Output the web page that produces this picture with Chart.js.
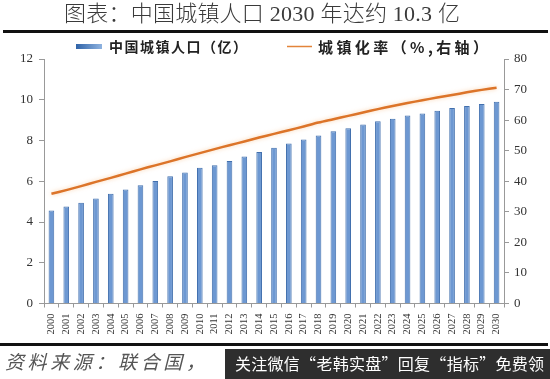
<!DOCTYPE html>
<html>
<head>
<meta charset="utf-8">
<script src="https://cdn.jsdelivr.net/npm/chart.js@4"></script>
<style>
html,body{margin:0;padding:0;background:#fff;}
#c{display:block;}
</style>
</head>
<body>
<canvas id="c" width="550" height="379"></canvas>
<script>
const years = ['2000','2001','2002','2003','2004','2005','2006','2007','2008','2009','2010','2011','2012','2013','2014','2015','2016','2017','2018','2019','2020','2021','2022','2023','2024','2025','2026','2027','2028','2029','2030'];
const urbanPop = [4.56,4.76,4.95,5.15,5.39,5.59,5.80,6.01,6.24,6.43,6.66,6.79,7.00,7.22,7.43,7.65,7.85,8.05,8.24,8.45,8.60,8.78,8.94,9.07,9.23,9.33,9.46,9.59,9.69,9.79,9.90];
const urbanRate = [35.9,37.1,38.4,39.8,41.1,42.5,43.9,45.2,46.5,47.9,49.2,50.5,51.8,53.0,54.3,55.5,56.7,57.9,59.2,60.3,61.4,62.5,63.6,64.6,65.6,66.5,67.4,68.2,69.1,69.9,70.6];
const leftTicks = [0,2,4,6,8,10,12];
const rightTicks = [0,10,20,30,40,50,60,70,80];
const barLabel = '中国城镇人口（亿）';
const lineLabel = '城镇化率（%,右轴）';
const titleText = '图表：中国城镇人口 2030 年达约 10.3 亿';
const sourceText = '资料来源：联合国，';
const watermarkText = '关注微信“老韩实盘”回复“指标”免费领';

const serif = '"Liberation Serif","Times New Roman",serif';
const cjk = '"Liberation Serif","Noto Sans CJK SC",sans-serif';

function fitText(ctx, text, x, y, width) {
  ctx.letterSpacing = '0px';
  const w = ctx.measureText(text).width;
  const n = [...text].length;
  const ls = (width - w) / (n - 1);
  ctx.letterSpacing = ls.toFixed(2) + 'px';
  ctx.fillText(text, x, y);
  ctx.letterSpacing = '0px';
}

const decor = {
  id: 'decor',
  beforeDatasetDraw(chart, args) {
    if (args.index === 1) {
      const ctx = chart.ctx;
      ctx.save();
      ctx.shadowColor = 'rgba(245,175,110,0.55)';
      ctx.shadowBlur = 4;
    }
  },
  afterDatasetDraw(chart, args) {
    if (args.index === 1) chart.ctx.restore();
  },
  afterDraw(chart) {
    const ctx = chart.ctx;
    ctx.save();
    ctx.textBaseline = 'middle';
    ctx.textAlign = 'left';
    // title
    ctx.fillStyle = '#3a3a3a';
    ctx.font = '300 22px ' + cjk;
    fitText(ctx, titleText, 64, 15, 396);
    // rules
    ctx.fillStyle = '#111';
    ctx.fillRect(3, 30, 545, 3);
    ctx.fillRect(0, 343, 548, 3);
    // legend
    const g = ctx.createLinearGradient(76, 0, 102, 0);
    g.addColorStop(0, '#2f63a8');
    g.addColorStop(1, '#8fb3e0');
    ctx.fillStyle = g;
    ctx.fillRect(76, 44, 26, 5);
    ctx.fillStyle = '#222';
    ctx.font = 'bold 14px "Noto Sans CJK SC",sans-serif';
    fitText(ctx, barLabel, 109, 47, 138);
    ctx.strokeStyle = '#e3843a';
    ctx.lineWidth = 1.5;
    ctx.beginPath();
    ctx.moveTo(287, 46.5);
    ctx.lineTo(312, 46.5);
    ctx.stroke();
    ctx.font = 'bold 15px "Noto Sans CJK SC",sans-serif';
    fitText(ctx, lineLabel, 318, 47, 170);
    // source
    ctx.fillStyle = '#555';
    ctx.font = 'italic 19px "Noto Sans CJK SC",sans-serif';
    fitText(ctx, sourceText, 5, 362, 200);
    // watermark
    ctx.fillStyle = 'rgba(28,28,28,0.92)';
    ctx.fillRect(225, 349, 325, 30);
    ctx.fillStyle = '#fff';
    ctx.font = '16px "Noto Sans CJK SC",sans-serif';
    fitText(ctx, watermarkText, 235, 364, 309);
    ctx.restore();
  }
};

new Chart(document.getElementById('c'), {
  data: {
    labels: years,
    datasets: [
      {
        type: 'bar',
        label: barLabel,
        data: urbanPop,
        yAxisID: 'y',
        backgroundColor: '#6d98d2',
        borderColor: '#4270ae',
        borderWidth: 1,
        barPercentage: 0.38,
        categoryPercentage: 1,
        order: 1
      },
      {
        type: 'line',
        label: lineLabel,
        data: urbanRate,
        yAxisID: 'y1',
        borderColor: '#dc7429',
        borderWidth: 2.5,
        pointRadius: 0,
        tension: 0.3,
        fill: false,
        order: 0
      }
    ]
  },
  options: {
    responsive: false,
    animation: false,
    devicePixelRatio: 1,
    layout: { padding: { top: 59, left: 0, right: 0, bottom: 0 } },
    plugins: { legend: { display: false }, title: { display: false }, tooltip: { enabled: false } },
    scales: {
      x: {
        type: 'category',
        offset: true,
        grid: { offset: true, drawOnChartArea: false, tickLength: 4, color: '#999' },
        border: { color: '#999' },
        ticks: { minRotation: 90, maxRotation: 90, autoSkip: false, padding: 6, color: '#333', font: { family: serif, size: 10.5 } },
        afterFit(s) { s.height = 75.5; }
      },
      y: {
        position: 'left',
        min: 0, max: 12,
        afterBuildTicks(s) { s.ticks = leftTicks.map(v => ({ value: v })); },
        grid: { drawOnChartArea: false, tickLength: 5, color: '#999' },
        border: { color: '#999' },
        ticks: { padding: 6, color: '#333', font: { family: serif, size: 13 } },
        afterFit(s) { s.width = 44; }
      },
      y1: {
        position: 'right',
        min: 0, max: 80,
        afterBuildTicks(s) { s.ticks = rightTicks.map(v => ({ value: v })); },
        grid: { drawOnChartArea: false, tickLength: 5, color: '#999' },
        border: { color: '#999' },
        ticks: { padding: 5, color: '#333', font: { family: serif, size: 13 } },
        afterFit(s) { s.width = 46; }
      }
    }
  },
  plugins: [decor]
});
</script>
</body>
</html>
